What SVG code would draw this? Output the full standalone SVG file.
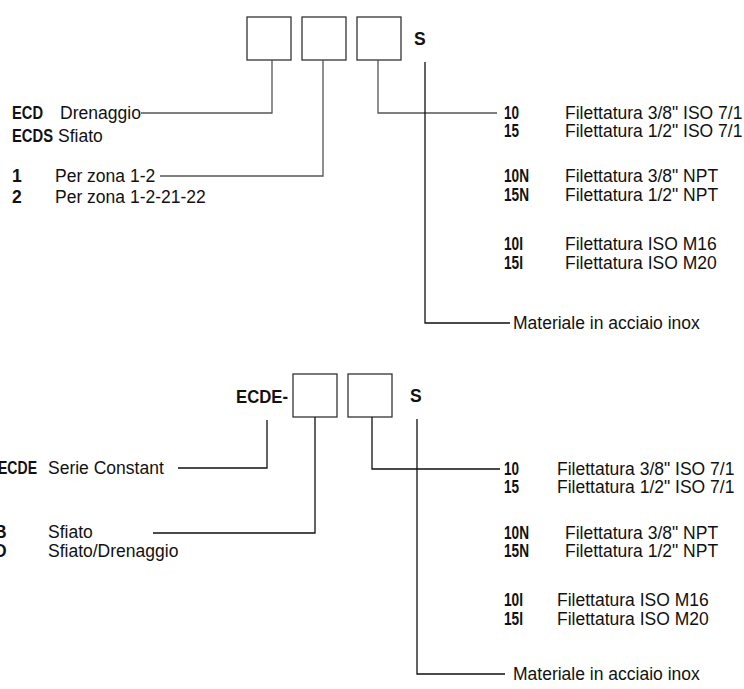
<svg xmlns="http://www.w3.org/2000/svg" width="744" height="689" viewBox="0 0 744 689">
<style>
text{font-family:"Liberation Sans",Arial,sans-serif;font-size:17.5px;fill:#111}
.b{font-weight:bold}
.box{fill:none;stroke:#333;stroke-width:1.3}
.c{fill:none;stroke:#555;stroke-width:1.3}
.k{fill:none;stroke:#111;stroke-width:1.3}
</style>
<rect width="744" height="689" fill="#fff"/>
<g id="top">
  <g id="t-box1"><rect class="box" x="247" y="17" width="44" height="43"/></g>
  <g id="t-box2"><rect class="box" x="302" y="17" width="44" height="43"/></g>
  <g id="t-box3"><rect class="box" x="357" y="17" width="44" height="43"/></g>
  <g id="t-s"><text class="b" x="414" y="45">S</text></g>
  <g id="t-type">
    <text class="b" x="12" y="119" textLength="31" lengthAdjust="spacingAndGlyphs">ECD</text><text x="60" y="119" textLength="81" lengthAdjust="spacingAndGlyphs">Drenaggio</text>
    <text class="b" x="12" y="142" textLength="41" lengthAdjust="spacingAndGlyphs">ECDS</text><text x="58" y="142">Sfiato</text>
  </g>
  <g id="t-zone">
    <text class="b" x="12" y="182">1</text><text x="55" y="182">Per zona 1-2</text>
    <text class="b" x="12" y="203">2</text><text x="55" y="203">Per zona 1-2-21-22</text>
  </g>
  <g id="t-thread">
    <text class="b" x="504" y="119" textLength="15" lengthAdjust="spacingAndGlyphs">10</text><text x="565" y="119">Filettatura 3/8" ISO 7/1</text>
    <text class="b" x="504" y="137" textLength="15" lengthAdjust="spacingAndGlyphs">15</text><text x="565" y="137">Filettatura 1/2" ISO 7/1</text>
    <text class="b" x="504" y="182" textLength="25" lengthAdjust="spacingAndGlyphs">10N</text><text x="565" y="182">Filettatura 3/8" NPT</text>
    <text class="b" x="504" y="201" textLength="25" lengthAdjust="spacingAndGlyphs">15N</text><text x="565" y="201">Filettatura 1/2" NPT</text>
    <text class="b" x="504" y="250" textLength="19" lengthAdjust="spacingAndGlyphs">10I</text><text x="565" y="250">Filettatura ISO M16</text>
    <text class="b" x="504" y="269" textLength="19" lengthAdjust="spacingAndGlyphs">15I</text><text x="565" y="269">Filettatura ISO M20</text>
  </g>
  <g id="t-mat"><text x="513" y="329">Materiale in acciaio inox</text></g>
</g>
<g id="bottom">
  <g id="b-prefix"><text class="b" x="236" y="403" textLength="52" lengthAdjust="spacingAndGlyphs">ECDE-</text></g>
  <g id="b-box1"><rect class="box" x="293" y="374" width="44" height="43"/></g>
  <g id="b-box2"><rect class="box" x="348" y="374" width="44" height="43"/></g>
  <g id="b-s"><text class="b" x="410" y="402">S</text></g>
  <g id="b-series">
    <text class="b" x="-2" y="474" textLength="39" lengthAdjust="spacingAndGlyphs">ECDE</text><text x="48" y="474">Serie Constant</text>
  </g>
  <g id="b-func">
    <text class="b" x="-6" y="538">B</text><text x="48" y="538">Sfiato</text>
    <text class="b" x="-6" y="557">D</text><text x="48" y="557">Sfiato/Drenaggio</text>
  </g>
  <g id="b-thread">
    <text class="b" x="504" y="475" textLength="15" lengthAdjust="spacingAndGlyphs">10</text><text x="557" y="475">Filettatura 3/8" ISO 7/1</text>
    <text class="b" x="504" y="493" textLength="15" lengthAdjust="spacingAndGlyphs">15</text><text x="557" y="493">Filettatura 1/2" ISO 7/1</text>
    <text class="b" x="504" y="539" textLength="25" lengthAdjust="spacingAndGlyphs">10N</text><text x="565" y="539">Filettatura 3/8" NPT</text>
    <text class="b" x="504" y="557" textLength="25" lengthAdjust="spacingAndGlyphs">15N</text><text x="565" y="557">Filettatura 1/2" NPT</text>
    <text class="b" x="504" y="606" textLength="19" lengthAdjust="spacingAndGlyphs">10I</text><text x="557" y="606">Filettatura ISO M16</text>
    <text class="b" x="504" y="625" textLength="19" lengthAdjust="spacingAndGlyphs">15I</text><text x="557" y="625">Filettatura ISO M20</text>
  </g>
  <g id="b-mat"><text x="513" y="680">Materiale in acciaio inox</text></g>
</g>
<g id="connectors">
  <path class="c" d="M272 60V113H141"/>
  <path class="c" d="M323 60V176H160"/>
  <path class="c" d="M378 60V113H497"/>
  <path class="k" d="M425 62V323H510"/>
  <path class="k" d="M267 420V468H178"/>
  <path class="k" d="M315 417V533H153"/>
  <path class="k" d="M372 417V469H500"/>
  <path class="k" d="M417 419V674H505"/>
</g>
</svg>
